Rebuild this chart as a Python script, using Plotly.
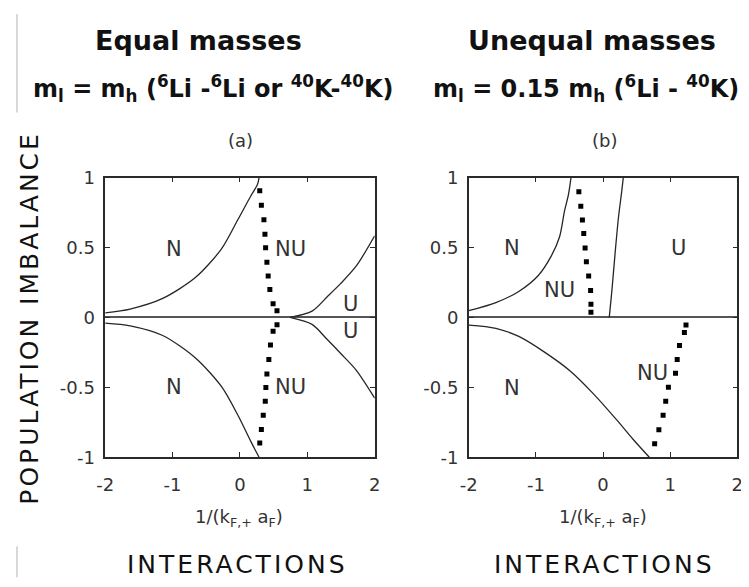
import plotly.graph_objects as go

# ---------------- data ----------------
x_ticks = [-2, -1, 0, 1, 2]
x_ticklabels = ["-2", "-1", "0", "1", "2"]
y_ticks = [-1, -0.5, 0, 0.5, 1]
y_ticklabels = ["-1", "-0.5", "0", "0.5", "1"]

# panel (a): equal masses
a_up_x = [-2.0, -1.63, -1.146, -0.662, -0.274, -0.03, 0.163, 0.26, 0.284]
a_up_y = [0.032, 0.06, 0.136, 0.285, 0.49, 0.70, 0.87, 0.95, 1.0]
a_lo_x = [-2.0, -1.63, -1.146, -0.66, -0.27, -0.03, 0.163, 0.284]
a_lo_y = [-0.041, -0.06, -0.129, -0.29, -0.497, -0.70, -0.888, -1.0]
a_dot_up_x = [0.294, 0.318, 0.356, 0.371, 0.381, 0.40, 0.419, 0.444, 0.492, 0.55]
a_dot_up_y = [0.906, 0.802, 0.699, 0.595, 0.499, 0.395, 0.297, 0.2, 0.097, 0.048]
a_dot_lo_x = [0.55, 0.492, 0.453, 0.429, 0.40, 0.385, 0.376, 0.346, 0.318, 0.294]
a_dot_lo_y = [-0.053, -0.099, -0.198, -0.301, -0.405, -0.501, -0.6, -0.699, -0.802, -0.899]
a_uu_x = [0.745, 1.07, 1.3, 1.5, 1.73, 2.0]
a_uu_y = [0.0, 0.045, 0.15, 0.245, 0.37, 0.584]
a_ul_x = [0.745, 1.07, 1.3, 1.5, 1.73, 2.0]
a_ul_y = [0.0, -0.05, -0.16, -0.26, -0.38, -0.577]

# panel (b): unequal masses
b_up_x = [-2.0, -1.596, -1.255, -0.964, -0.77, -0.647, -0.574, -0.516, -0.477]
b_up_y = [0.048, 0.106, 0.186, 0.30, 0.44, 0.577, 0.76, 0.876, 1.0]
b_mid_x = [0.093, 0.131, 0.18, 0.23, 0.278, 0.302]
b_mid_y = [0.0, 0.186, 0.46, 0.715, 0.9, 1.0]
b_lo_x = [-2.0, -1.596, -1.255, -0.866, -0.477, -0.135, 0.204, 0.447, 0.69]
b_lo_y = [-0.055, -0.078, -0.136, -0.25, -0.388, -0.55, -0.733, -0.871, -1.0]
b_dot_up_x = [-0.36, -0.331, -0.307, -0.287, -0.267, -0.248, -0.214, -0.185, -0.18, -0.18]
b_dot_up_y = [0.899, 0.795, 0.697, 0.6, 0.497, 0.398, 0.297, 0.193, 0.094, 0.037]
b_dot_lo_x = [1.236, 1.212, 1.139, 1.105, 1.08, 0.974, 0.934, 0.895, 0.832, 0.769]
b_dot_lo_y = [-0.055, -0.108, -0.2, -0.301, -0.4, -0.499, -0.6, -0.699, -0.803, -0.903]

# region labels
a_labels = ["N", "NU", "U", "U", "N", "NU"]
a_lab_x = [-0.98, 0.745, 1.64, 1.64, -0.98, 0.745]
a_lab_y = [0.49, 0.49, 0.097, -0.10, -0.497, -0.497]
b_labels = ["N", "NU", "U", "N", "NU"]
b_lab_x = [-1.353, -0.647, 1.13, -1.353, 0.73]
b_lab_y = [0.497, 0.198, 0.497, -0.503, -0.40]

# ---------------- figure ----------------
# the page body has an 8px margin, so the figure is drawn 8px in from the window corner
OFF = 8
W, H = 749, 587
FONT = "DejaVu Sans"
CURVE = dict(color="#262626", width=1.3)


def PX(px):
    return (px - OFF) / W


def PY(py):
    return 1 - (py - OFF) / H


fig = go.Figure()


def curve(x, y, ax, shape="spline"):
    fig.add_trace(go.Scatter(x=x, y=y, mode="lines", line=dict(shape=shape, smoothing=0.8, **CURVE),
                             xaxis=ax[0], yaxis=ax[1], showlegend=False, hoverinfo="skip"))


def dots(x, y, ax):
    fig.add_trace(go.Scatter(x=x, y=y, mode="markers",
                             marker=dict(symbol="square", size=5, color="#000000", line=dict(width=0)),
                             xaxis=ax[0], yaxis=ax[1], showlegend=False, hoverinfo="skip"))


A = ("x", "y")
B = ("x2", "y2")
curve(a_up_x, a_up_y, A)
curve(a_lo_x, a_lo_y, A)
curve(a_uu_x, a_uu_y, A)
curve(a_ul_x, a_ul_y, A)
dots(a_dot_up_x, a_dot_up_y, A)
dots(a_dot_lo_x, a_dot_lo_y, A)

curve(b_up_x, b_up_y, B)
curve(b_mid_x, b_mid_y, B)
curve(b_lo_x, b_lo_y, B)
dots(b_dot_up_x, b_dot_up_y, B)
dots(b_dot_lo_x, b_dot_lo_y, B)

tickfont = dict(family=FONT, size=18, color="#333333")
axis_common = dict(showline=True, mirror="ticks", linecolor="#2a2a2a", linewidth=1.5,
                   ticks="inside", ticklen=5, tickwidth=1.2, tickcolor="#2a2a2a",
                   showgrid=False, tickfont=tickfont, fixedrange=True)

ydom = [PY(462.5), PY(172.5)]
fig.update_layout(
    width=W, height=H,
    margin=dict(l=0, r=0, t=0, b=0),
    paper_bgcolor="white", plot_bgcolor="white",
    xaxis=dict(domain=[PX(98), PX(373)], range=[-2, 2], tickvals=x_ticks, ticktext=x_ticklabels,
               zeroline=False, anchor="y", ticklabelstandoff=10, **axis_common),
    yaxis=dict(domain=ydom, range=[-1, 1], tickvals=y_ticks, ticktext=y_ticklabels,
               zeroline=True, zerolinecolor="#555555", zerolinewidth=1.5, anchor="x",
               ticklabelstandoff=5, **axis_common),
    xaxis2=dict(domain=[PX(469), PX(743)], range=[-2, 2], tickvals=x_ticks, ticktext=x_ticklabels,
                zeroline=False, anchor="y2", ticklabelstandoff=10, **axis_common),
    yaxis2=dict(domain=ydom, range=[-1, 1], tickvals=y_ticks, ticktext=y_ticklabels,
                zeroline=True, zerolinecolor="#555555", zerolinewidth=1.5, anchor="x2",
                ticklabelstandoff=5, **axis_common),
)

ann = []
labfont = dict(family=FONT, size=21, color="#333333")
for t, x, y in zip(a_labels, a_lab_x, a_lab_y):
    ann.append(dict(text=t, x=x, y=y, xref="x", yref="y", showarrow=False, font=labfont))
for t, x, y in zip(b_labels, b_lab_x, b_lab_y):
    ann.append(dict(text=t, x=x, y=y, xref="x2", yref="y2", showarrow=False, font=labfont))


def paper_text(text, px, py, font, xanchor="center", **kw):
    ann.append(dict(text=text, x=PX(px), y=PY(py), xref="paper", yref="paper",
                    showarrow=False, font=font, xanchor=xanchor, yanchor="middle", **kw))


title_font = dict(family=FONT, size=27, color="#111111")
line2_font = dict(family=FONT, size=24, color="#111111")
paper_text("<b>Equal masses</b>", 193, 30, title_font)
paper_text("<b>Unequal masses</b>", 595, 30, title_font)
paper_text("<b>m<sub>l</sub> = m<sub>h</sub> (<sup>6</sup>Li -<sup>6</sup>Li or <sup>40</sup>K-<sup>40</sup>K)</b>",
           208, 80, line2_font)
paper_text("<b>m<sub>l</sub> = 0.15 m<sub>h</sub> (<sup>6</sup>Li - <sup>40</sup>K)</b>", 747, 80, line2_font,
           xanchor="right")

sub_font = dict(family=FONT, size=18, color="#333333")
paper_text("(a)", 236, 134, sub_font)
paper_text("(b)", 607, 134, sub_font)
paper_text("1/(k<sub>F,+</sub> a<sub>F</sub>)", 235, 526, sub_font)
paper_text("1/(k<sub>F,+</sub> a<sub>F</sub>)", 606, 526, sub_font)

big_font = dict(family=FONT, size=25, color="#111111")
paper_text('<span style="letter-spacing:3px">INTERACTIONS</span>', 233, 574, big_font)
paper_text('<span style="letter-spacing:3px">INTERACTIONS</span>', 607, 574, big_font)
paper_text('<span style="letter-spacing:3px">POPULATION IMBALANCE</span>', 21, 318, big_font, textangle=-90)

fig.update_layout(annotations=ann)

# thin grey edge marks at the left border
fig.add_shape(type="line", xref="paper", yref="paper", x0=PX(8), x1=PX(8), y0=PY(3), y1=PY(105),
              line=dict(color="#b0b0b0", width=1))
fig.add_shape(type="line", xref="paper", yref="paper", x0=PX(8), x1=PX(8), y0=PY(555), y1=PY(587),
              line=dict(color="#b0b0b0", width=1))

fig.write_html("out.html")
